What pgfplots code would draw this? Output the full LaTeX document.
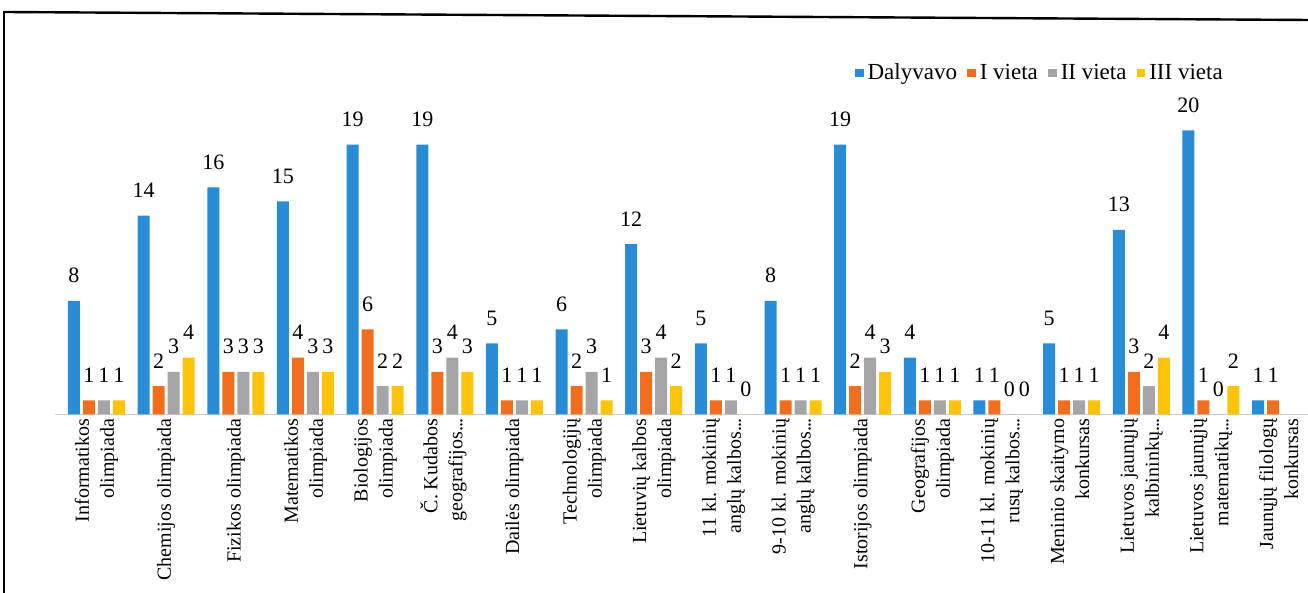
\documentclass[border=0pt]{standalone}
\usepackage{pgfplots}
\pgfplotsset{compat=1.18}
\usepackage{fontspec}
\setmainfont{Liberation Serif}
\definecolor{cblue}{RGB}{40,140,215}
\definecolor{corange}{RGB}{240,110,30}
\definecolor{cgray}{RGB}{165,165,168}
\definecolor{cyellow}{RGB}{255,195,10}
\newcommand{\dd}{.\kern-0.05em.\kern-0.05em.}
\newcommand{\tl}[2]{\begin{tabular}{@{}r@{}}#1\\#2\end{tabular}}
\begin{document}
\begin{tikzpicture}
\path[use as bounding box] (0,0) rectangle (654pt,296.5pt);
\draw[line width=1.2pt] (2pt,290.5pt) -- (654pt,286.5pt);
\draw[line width=0.6pt] (2pt,290.8pt) -- (2pt,0pt);
\begin{axis}[
  at={(27.35pt,89.25pt)}, anchor=south west,
  scale only axis, width=630.35pt, height=145.55pt,
  xmin=-0.6, xmax=17.5, ymin=0, ymax=20.5,
  ybar=1.5pt, bar width=6pt,
  axis x line=bottom, axis y line=none,
  x axis line style={-, draw=gray!40},
  ytick=\empty,
  /pgf/number format/assume math mode=true,
  xtick={0,1,2,3,4,5,6,7,8,9,10,11,12,13,14,15,16,17}, major tick length=0pt,
  xticklabels={{\tl{Informatikos}{olimpiada}},{Chemijos olimpiada},{Fizikos olimpiada},{\tl{Matematikos}{olimpiada}},{\tl{Biologijos}{olimpiada}},{\tl{Č. Kudabos}{geografijos\dd}},{Dailės olimpiada},{\tl{Technologijų}{olimpiada}},{\tl{Lietuvių kalbos}{olimpiada}},{\tl{11 kl. mokinių}{anglų kalbos\dd}},{\tl{9-10 kl. mokinių}{anglų kalbos\dd}},{Istorijos olimpiada},{\tl{Geografijos}{olimpiada}},{\tl{10-11 kl. mokinių}{rusų kalbos\dd}},{\tl{Meninio skaitymo}{konkursas}},{\tl{Lietuvos jaunųjų}{kalbininkų\dd}},{\tl{Lietuvos jaunųjų}{matematikų\dd}},{\tl{Jaunųjų filologų}{konkursas}}},
  xticklabel style={rotate=90, anchor=east, font=\fontsize{10}{12.5}\selectfont, inner sep=2pt},
  clip=false,
  nodes near coords,
  every node near coord/.append style={font=\fontsize{11}{12}\selectfont, black, anchor=south, yshift=5.5pt},
  legend columns=4,
  legend style={draw=none, fill=none, at={(0.93,1.173)}, anchor=east, font=\fontsize{11.5}{13}\selectfont, inner sep=0pt,
    /tikz/every even column/.append style={column sep=3pt}},
  legend image code/.code={\fill[#1] (0pt,-2.2pt) rectangle (4.4pt,2.2pt);},
]
\addplot[fill=cblue, draw=none] coordinates {(0,8) (1,14) (2,16) (3,15) (4,19) (5,19) (6,5) (7,6) (8,12) (9,5) (10,8) (11,19) (12,4) (13,1) (14,5) (15,13) (16,20) (17,1)};
\addplot[fill=corange, draw=none] coordinates {(0,1) (1,2) (2,3) (3,4) (4,6) (5,3) (6,1) (7,2) (8,3) (9,1) (10,1) (11,2) (12,1) (13,1) (14,1) (15,3) (16,1) (17,1)};
\addplot[fill=cgray, draw=none] coordinates {(0,1) (1,3) (2,3) (3,3) (4,2) (5,4) (6,1) (7,3) (8,4) (9,1) (10,1) (11,4) (12,1) (13,0) (14,1) (15,2) (16,0)};
\addplot[fill=cyellow, draw=none] coordinates {(0,1) (1,4) (2,3) (3,3) (4,2) (5,3) (6,1) (7,1) (8,2) (9,0) (10,1) (11,3) (12,1) (13,0) (14,1) (15,4) (16,2)};
\legend{Dalyvavo,I vieta,II vieta,III vieta}
\end{axis}
\end{tikzpicture}
\end{document}
